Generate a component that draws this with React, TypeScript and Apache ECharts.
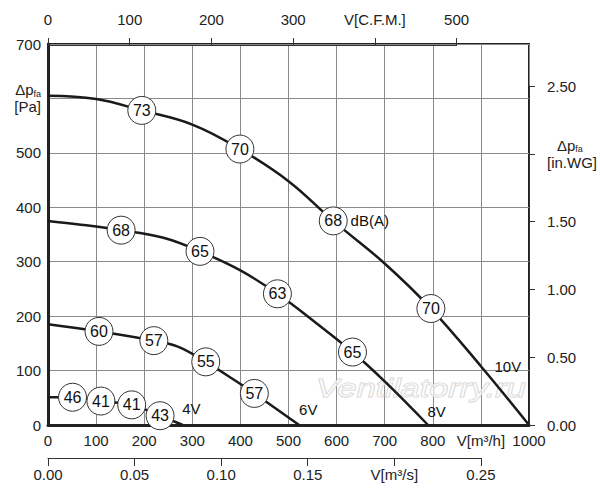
import * as echarts from 'echarts';
import { useEffect, useRef } from 'react';

// fan curves: [airflow m³/h, static pressure Pa]
const curve10V: [number, number][] = [
  [0, 605], [100, 599], [195, 578], [300, 552], [399, 507], [500, 448],
  [593, 375], [697, 299], [796, 214], [900, 108], [1000, 0],
];
const curve8V: [number, number][] = [
  [0, 375], [60, 369], [152, 358], [240, 344], [316, 319], [400, 284],
  [477, 241], [558, 187], [633, 134], [700, 80], [790, 0],
];
const curve6V: [number, number][] = [
  [0, 185], [106, 172], [220, 155], [270, 144], [328, 116], [385, 84],
  [429, 58], [522, 0],
];
const curve4V: [number, number][] = [
  [0, 51], [51, 51], [110, 44], [174, 37], [233, 17], [280, 0],
];

// noise level bubbles: [airflow, pressure, dB(A)]
const noise10V = [[195, 578, 73], [399, 507, 70], [593, 375, 68], [796, 214, 70]];
const noise8V = [[152, 358, 68], [316, 319, 65], [477, 241, 63], [633, 134, 65]];
const noise6V = [[106, 172, 60], [220, 155, 57], [328, 116, 55], [429, 58, 57]];
const noise4V = [[51, 51, 46], [110, 44, 41], [174, 37, 41], [233, 17, 43]];

// curve captions: [airflow, pressure, text]
const captions: [number, number, string][] = [
  [298, 31, '4V'], [541, 28, '6V'], [808, 25, '8V'], [956, 108, '10V'], [669, 375, 'dB(A)'],
];

const flowTicks = [0, 1000, 100];
const pressureTicks = [0, 700, 100];
const cfmTicks = [0, 500, 100];
const m3sTicks = [0, 0.25, 0.05];
const inwgTicks = [0, 2.5, 0.5];

const M3H_PER_CFM = 1.699;
const PA_PER_INWG = 249.09;

const FONT = '"Liberation Sans", Arial, sans-serif';
const plot = { left: 48, top: 44, width: 481, height: 381 };

export default function App() {
  const ref = useRef<HTMLDivElement>(null);

  useEffect(() => {
    document.body.style.margin = '0';
    const chart = echarts.init(ref.current!, null, { renderer: 'svg' });
    const sx = plot.width / flowTicks[1];
    const sy = plot.height / pressureTicks[1];
    const cfmWidth = cfmTicks[1] * M3H_PER_CFM * sx;
    const m3sWidth = m3sTicks[1] * 3600 * sx;
    const inwgHeight = inwgTicks[1] * PA_PER_INWG * sy;
    const bottom = plot.top + plot.height;

    const label = { fontFamily: FONT, fontSize: 15, color: '#222' };
    const thin = { lineStyle: { color: '#333', width: 1 } };
    const rich = {
      a: { fontFamily: FONT, fontSize: 15, color: '#222', lineHeight: 17 },
      s: { fontFamily: FONT, fontSize: 9, color: '#222', verticalAlign: 'bottom', lineHeight: 13 },
    };

    const line = (data: [number, number][]) => ({
      type: 'line',
      data,
      smooth: 0.4,
      symbol: 'none',
      lineStyle: { color: '#1a1a1a', width: 2.5 },
      z: 3,
    });
    const bubbles = (data: number[][]) => ({
      type: 'scatter',
      data,
      symbol: 'circle',
      symbolSize: 28,
      itemStyle: { color: '#fff', borderColor: '#333', borderWidth: 1, opacity: 1 },
      label: {
        show: true,
        position: 'inside',
        formatter: (p: { value: number[] }) => String(p.value[2]),
        fontFamily: FONT,
        fontSize: 16,
        color: '#111',
      },
      z: 5,
    });

    chart.setOption({
      animation: false,
      backgroundColor: '#fff',
      grid: [
        { ...plot, show: true, borderColor: '#222', borderWidth: 2, containLabel: false },
        { left: plot.left, top: 35, width: cfmWidth, height: 10 },
        { left: plot.left, top: 448, width: m3sWidth, height: 10 },
        { left: plot.left + plot.width, top: bottom - inwgHeight, width: 10, height: inwgHeight },
      ],
      xAxis: [
        {
          gridIndex: 0, type: 'value', min: flowTicks[0], max: flowTicks[1], interval: flowTicks[2],
          axisLine: { show: true, lineStyle: { color: '#222', width: 3 } },
          axisTick: { show: false },
          splitLine: { show: true, lineStyle: { color: '#8a8a8a', width: 1 } },
          axisLabel: { ...label, margin: 8, formatter: (v: number) => (v === 900 ? 'V[m³/h]' : String(v)) },
        },
        {
          gridIndex: 1, type: 'value', position: 'top', min: cfmTicks[0], max: cfmTicks[1], interval: cfmTicks[2],
          axisLine: { show: true, ...thin },
          axisTick: { show: true, length: 7, ...thin },
          splitLine: { show: false },
          axisLabel: { ...label, margin: 8, formatter: (v: number) => (v === 400 ? 'V[C.F.M.]' : String(v)) },
        },
        {
          gridIndex: 2, type: 'value', position: 'bottom', min: m3sTicks[0], max: m3sTicks[1], interval: m3sTicks[2],
          axisLine: { show: true, ...thin },
          axisTick: { show: true, length: 8, ...thin },
          splitLine: { show: false },
          axisLabel: {
            ...label, margin: 9,
            formatter: (v: number) => (Math.abs(v - 0.2) < 1e-6 ? 'V[m³/s]' : v.toFixed(2)),
          },
        },
        { gridIndex: 3, type: 'value', show: false, min: 0, max: 1 },
      ],
      yAxis: [
        {
          gridIndex: 0, type: 'value', min: pressureTicks[0], max: pressureTicks[1], interval: pressureTicks[2],
          axisLine: { show: true, lineStyle: { color: '#222', width: 3 } },
          axisTick: { show: false },
          splitLine: { show: true, lineStyle: { color: '#8a8a8a', width: 1 } },
          axisLabel: {
            ...label, margin: 7, rich,
            formatter: (v: number) => (v === 600 ? '{a|Δp}{s|fa}\n{a|[Pa]}' : String(v)),
          },
        },
        { gridIndex: 1, type: 'value', show: false },
        { gridIndex: 2, type: 'value', show: false },
        {
          gridIndex: 3, type: 'value', position: 'right', min: inwgTicks[0], max: inwgTicks[1], interval: inwgTicks[2],
          axisLine: { show: true, ...thin },
          axisTick: { show: true, length: 6, ...thin },
          splitLine: { show: false },
          axisLabel: {
            ...label, margin: 10,
            rich: { ...rich, p: { ...rich.a, padding: [0, 0, 0, 10] } },
            formatter: (v: number) => (v === 2 ? '{p|Δp}{s|fa}\n{a|[in.WG]}' : v.toFixed(2)),
          },
        },
      ],
      graphic: [
        {
          type: 'text',
          x: 316,
          y: 375,
          scaleX: 1.32,
          z: 1,
          style: {
            text: 'Ventilatorry.ru',
            font: `italic 26px ${FONT}`,
            fill: 'rgba(255,255,255,0.6)',
            stroke: '#d0d0d0',
            lineWidth: 1,
          },
        },
      ],
      series: [
        line(curve10V), line(curve8V), line(curve6V), line(curve4V),
        bubbles(noise10V), bubbles(noise8V), bubbles(noise6V), bubbles(noise4V),
        {
          type: 'scatter',
          data: captions.map(([x, y, t]) => ({ value: [x, y], name: t })),
          symbolSize: 1,
          itemStyle: { color: 'transparent', opacity: 1 },
          label: {
            show: true, position: 'inside', formatter: (p: { name: string }) => p.name,
            fontFamily: FONT, fontSize: 15, color: '#111',
          },
          z: 6,
        },
      ],
    });
    return () => chart.dispose();
  }, []);

  return <div ref={ref} style={{ width: 600, height: 500 }} />;
}
